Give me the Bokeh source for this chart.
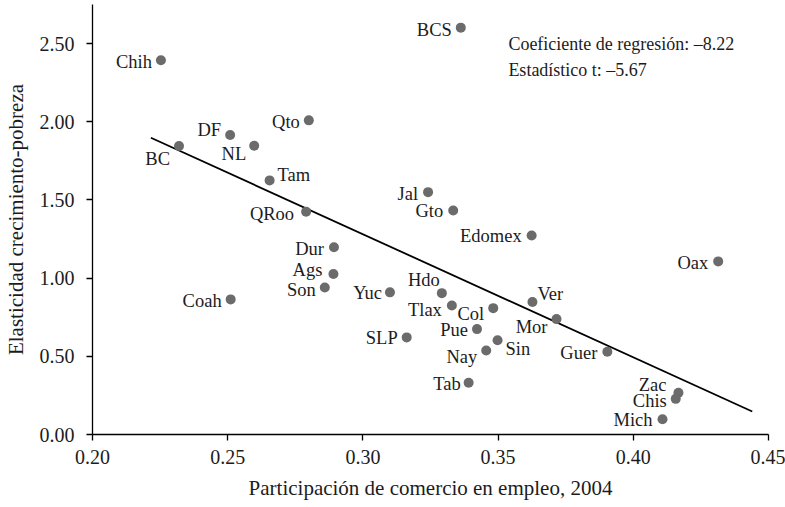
from bokeh.plotting import figure
from bokeh.models import ColumnDataSource, Range1d, FixedTicker, PrintfTickFormatter, Label
from bokeh.core.properties import value
from bokeh.embed import file_html
from bokeh.resources import INLINE

# Data
states = ["Chih", "BC", "DF", "NL", "Qto", "Tam", "QRoo", "Dur", "Ags", "Son", "Coah", "Yuc",
          "SLP", "BCS", "Jal", "Gto", "Edomex", "Oax", "Hdo", "Tlax", "Col", "Ver", "Mor", "Pue",
          "Sin", "Nay", "Tab", "Guer", "Zac", "Chis", "Mich"]
comercio = [0.2253, 0.2320, 0.2509, 0.2598, 0.2800, 0.2655, 0.2790, 0.2893, 0.2891, 0.2859, 0.2511, 0.3100,
            0.3162, 0.3362, 0.3241, 0.3334, 0.3624, 0.4314, 0.3292, 0.3329, 0.3482, 0.3627, 0.3716, 0.3422,
            0.3498, 0.3456, 0.3391, 0.3904, 0.4167, 0.4157, 0.4108]
elasticidad = [2.393, 1.845, 1.915, 1.847, 2.009, 1.625, 1.425, 1.198, 1.026, 0.940, 0.864, 0.909,
               0.621, 2.602, 1.550, 1.433, 1.273, 1.107, 0.904, 0.825, 0.808, 0.847, 0.738, 0.674,
               0.603, 0.537, 0.331, 0.529, 0.267, 0.228, 0.098]
reg_x = [0.2216, 0.4440]
reg_y = [1.898, 0.147]
x_ticks = [0.20, 0.25, 0.30, 0.35, 0.40, 0.45]
y_ticks = [0.0, 0.5, 1.0, 1.5, 2.0, 2.5]
stats_lines = ["Coeficiente de regresión: \u20138.22", "Estadístico t: \u20135.67"]

# Label placement (screen pixel offsets from each point)
lab_dx = [-9, -9, -9, -8, -9, 8, -12, -10, -11, -9, -9, -8,
          -9, -9, -10, -10, -10, -10, -2, -10, -9, 5, -9, -9,
          8, -9, -8, -10, -12, -9, -10]
lab_dy = [2, 13, -5, 8, 2, -5, 2, 2, -4, 2, 2, 1,
          1, 2, 2, 1, 1, 2, -13, 4, 6, -8, 8, 1,
          9, 6, 1, 1, -8, 2, 1]
lab_align = ["right"] * len(states)
for i, s in enumerate(states):
    if s in ("Tam", "Ver", "Sin"):
        lab_align[i] = "left"

FONT = "Liberation Serif"
INK = "#1c1c1c"

src = ColumnDataSource(dict(x=comercio, y=elasticidad, name=states,
                            dx=lab_dx, dy=lab_dy, align=lab_align))

p = figure(width=785, height=507, output_backend="svg", toolbar_location=None,
           x_range=Range1d(0.20, 0.45), y_range=Range1d(0.0, 2.75),
           min_border_left=92, min_border_right=17, min_border_top=4, min_border_bottom=73)
p.outline_line_color = None
p.grid.visible = False
p.background_fill_color = "white"
p.border_fill_color = "white"

p.line(reg_x, reg_y, line_color="black", line_width=1.8)
p.scatter("x", "y", source=src, size=10, fill_color="#6b6b6b", line_color=None)
p.text("x", "y", text="name", source=src, x_offset="dx", y_offset="dy",
       text_align="align", text_baseline="middle",
       text_font=value(FONT), text_font_size="18.5px", text_color=INK)

ann_x = 0.3538
ann_y = [2.50, 2.334]
for t, yy in zip(stats_lines, ann_y):
    p.add_layout(Label(x=ann_x, y=yy, text=t, text_font=FONT, text_font_size="18px",
                       text_baseline="middle", text_align="left", text_color=INK))

for ax in (p.xaxis[0], p.yaxis[0]):
    ax.major_label_text_font = FONT
    ax.major_label_text_font_size = "20px"
    ax.major_label_text_color = INK
    ax.axis_label_text_font = FONT
    ax.axis_label_text_font_size = "21px"
    ax.axis_label_text_font_style = "normal"
    ax.axis_label_text_color = INK
    ax.axis_line_color = "black"
    ax.axis_line_width = 1.3
    ax.major_tick_line_color = "black"
    ax.major_tick_line_width = 1.3
    ax.major_tick_out = 6
    ax.major_tick_in = 0
    ax.minor_tick_line_color = None
    ax.formatter = PrintfTickFormatter(format="%.2f")

p.xaxis[0].ticker = FixedTicker(ticks=x_ticks)
p.yaxis[0].ticker = FixedTicker(ticks=y_ticks)
p.xaxis[0].axis_label = "Participación de comercio en empleo, 2004"
p.yaxis[0].axis_label = "Elasticidad crecimiento-pobreza"
p.xaxis[0].major_label_standoff = 9
p.yaxis[0].major_label_standoff = 12
p.xaxis[0].axis_label_standoff = 9
p.yaxis[0].axis_label_standoff = 9

open("out.html", "w").write(file_html(p, INLINE))
